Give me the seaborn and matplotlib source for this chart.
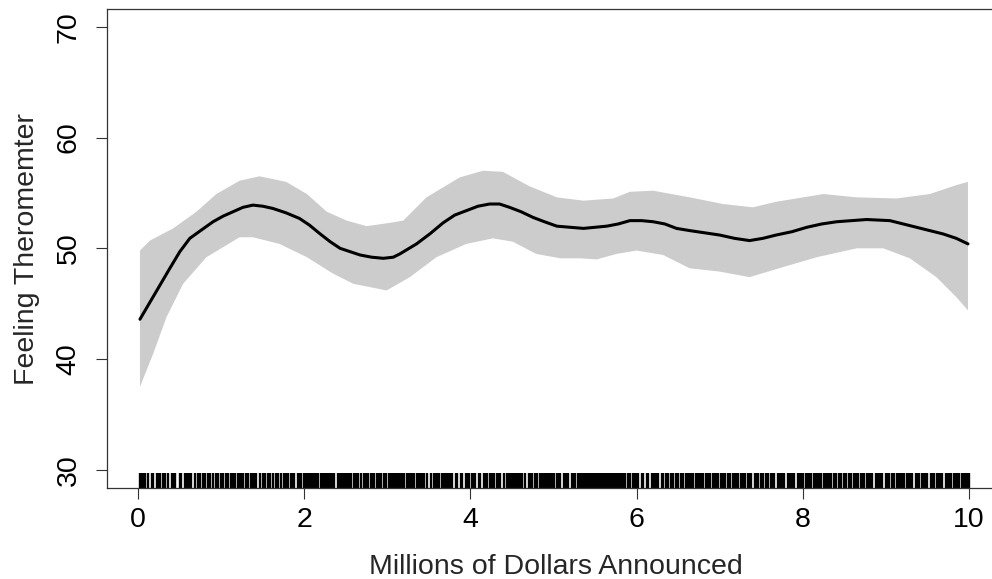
import matplotlib
matplotlib.use('Agg')
import matplotlib.pyplot as plt
import numpy as np
import pandas as pd
import seaborn as sns

# fitted curve (x in millions of dollars, y = feeling thermometer)
curve_x = [0.02, 0.20, 0.38, 0.50, 0.62, 0.75, 0.90, 1.02, 1.14, 1.26, 1.38, 1.50,
           1.62, 1.78, 1.94, 2.06, 2.19, 2.31, 2.43, 2.55, 2.67, 2.81, 2.95, 3.07,
           3.15, 3.35, 3.51, 3.67, 3.81, 3.95, 4.09, 4.23, 4.35, 4.47, 4.61, 4.75,
           4.89, 5.04, 5.20, 5.36, 5.64, 5.78, 5.92, 6.06, 6.20, 6.34, 6.48, 6.64,
           6.82, 7.00, 7.18, 7.36, 7.52, 7.68, 7.87, 8.05, 8.23, 8.41, 8.59, 8.77,
           9.05, 9.21, 9.37, 9.53, 9.69, 9.85, 9.99]
curve_y = [43.6, 45.9, 48.2, 49.7, 50.9, 51.6, 52.4, 52.9, 53.3, 53.7, 53.9, 53.8,
           53.6, 53.2, 52.7, 52.1, 51.3, 50.6, 50.0, 49.7, 49.4, 49.2, 49.1, 49.2,
           49.5, 50.4, 51.3, 52.3, 53.0, 53.4, 53.8, 54.0, 54.0, 53.7, 53.3, 52.8,
           52.4, 52.0, 51.9, 51.8, 52.0, 52.2, 52.5, 52.5, 52.4, 52.2, 51.8, 51.6,
           51.4, 51.2, 50.9, 50.7, 50.9, 51.2, 51.5, 51.9, 52.2, 52.4, 52.5, 52.6,
           52.5, 52.2, 51.9, 51.6, 51.3, 50.9, 50.4]

# upper edge of the confidence band
upper_x = [0.02, 0.14, 0.42, 0.70, 0.94, 1.22, 1.46, 1.78, 2.03, 2.27, 2.51, 2.75,
           3.03, 3.19, 3.47, 3.87, 4.15, 4.39, 4.71, 5.04, 5.36, 5.72, 5.92, 6.20,
           6.64, 7.04, 7.40, 7.68, 8.25, 8.65, 9.13, 9.53, 9.85, 9.99]
upper_y = [49.8, 50.7, 51.8, 53.3, 54.9, 56.1, 56.5, 56.0, 54.9, 53.3, 52.5, 52.0,
           52.3, 52.5, 54.6, 56.4, 57.0, 56.9, 55.6, 54.6, 54.3, 54.5, 55.1, 55.2,
           54.6, 54.0, 53.7, 54.2, 54.9, 54.6, 54.5, 54.9, 55.7, 56.0]

# lower edge of the confidence band
lower_x = [0.02, 0.18, 0.34, 0.54, 0.82, 1.22, 1.38, 1.70, 2.03, 2.35, 2.59, 2.99,
           3.27, 3.59, 3.95, 4.27, 4.51, 4.79, 5.08, 5.32, 5.52, 5.76, 6.00, 6.32,
           6.64, 7.00, 7.36, 7.76, 8.17, 8.65, 8.97, 9.29, 9.61, 9.85, 9.99]
lower_y = [37.5, 40.5, 43.8, 46.8, 49.2, 51.0, 51.0, 50.4, 49.2, 47.7, 46.8, 46.2,
           47.4, 49.2, 50.4, 50.9, 50.6, 49.5, 49.1, 49.1, 49.0, 49.5, 49.8, 49.4,
           48.2, 47.9, 47.4, 48.3, 49.2, 50.0, 50.0, 49.1, 47.4, 45.6, 44.4]

# observed amounts (rug)
rug_x = [
    0.02, 0.04, 0.06, 0.08, 0.12, 0.16, 0.18, 0.22, 0.24, 0.26, 0.30, 0.32, 0.36, 0.40, 0.42, 0.44,
    0.50, 0.52, 0.56, 0.58, 0.60, 0.62, 0.64, 0.68, 0.72, 0.74, 0.78, 0.80, 0.84, 0.86, 0.90, 0.94, 0.96,
    1.00, 1.02, 1.06, 1.08, 1.12, 1.14, 1.16, 1.20, 1.22, 1.24, 1.26, 1.30, 1.32, 1.36, 1.38, 1.40, 1.42,
    1.46, 1.50, 1.52, 1.56, 1.58, 1.62, 1.66, 1.68, 1.72, 1.76, 1.78, 1.80, 1.84, 1.86, 1.88, 1.92, 1.94, 1.96,
    2.00, 2.02, 2.04, 2.06, 2.08, 2.10, 2.12, 2.14, 2.16, 2.20, 2.22, 2.24, 2.26, 2.28, 2.30, 2.32, 2.34,
    2.36, 2.40, 2.42, 2.44, 2.46, 2.48, 2.50, 2.52, 2.54, 2.56, 2.60, 2.62, 2.64, 2.68, 2.72, 2.74, 2.76,
    2.80, 2.82, 2.84, 2.88, 2.90, 2.92, 2.96, 2.98,
    3.02, 3.04, 3.06, 3.08, 3.10, 3.12, 3.14, 3.16, 3.18, 3.20, 3.24, 3.26, 3.28, 3.30, 3.32, 3.36, 3.38,
    3.40, 3.42, 3.44, 3.48, 3.52, 3.56, 3.58, 3.60, 3.62, 3.66, 3.68, 3.70, 3.72, 3.74, 3.76, 3.78, 3.82,
    3.84, 3.88, 3.90, 3.94, 3.96, 3.98,
    4.02, 4.04, 4.06, 4.10, 4.12, 4.16, 4.18, 4.20, 4.24, 4.26, 4.28, 4.32, 4.34, 4.36, 4.40, 4.44, 4.46,
    4.48, 4.50, 4.52, 4.54, 4.56, 4.58, 4.60, 4.62, 4.66, 4.70, 4.72, 4.74, 4.78, 4.80, 4.84, 4.86, 4.88,
    4.90, 4.92, 4.94, 4.96, 4.98,
    5.00, 5.04, 5.06, 5.08, 5.12, 5.14, 5.16, 5.18, 5.22, 5.24, 5.26, 5.30, 5.32, 5.34, 5.36, 5.38, 5.40,
    5.42, 5.44, 5.46, 5.48, 5.50, 5.52, 5.54, 5.56, 5.58, 5.60, 5.62, 5.64, 5.66, 5.68, 5.70, 5.72, 5.74,
    5.76, 5.78, 5.80, 5.82, 5.84, 5.86, 5.90, 5.92, 5.96, 5.98,
    6.00, 6.02, 6.06, 6.08, 6.12, 6.14, 6.18, 6.20, 6.22, 6.24, 6.26, 6.30, 6.32, 6.36, 6.38, 6.42, 6.44,
    6.48, 6.50, 6.54, 6.56, 6.60, 6.62, 6.64, 6.66, 6.68, 6.72, 6.74, 6.76, 6.78, 6.80, 6.84, 6.86, 6.88,
    6.92, 6.94, 6.96, 6.98,
    7.02, 7.04, 7.06, 7.10, 7.12, 7.16, 7.18, 7.20, 7.22, 7.26, 7.28, 7.30, 7.34, 7.36, 7.38, 7.42, 7.44,
    7.46, 7.50, 7.52, 7.56, 7.58, 7.62, 7.64, 7.66, 7.70, 7.72, 7.74, 7.76, 7.78, 7.82, 7.84, 7.86, 7.88,
    7.90, 7.94, 7.96, 7.98,
    8.00, 8.04, 8.06, 8.08, 8.10, 8.14, 8.16, 8.18, 8.20, 8.22, 8.26, 8.28, 8.30, 8.32, 8.34, 8.38, 8.40,
    8.44, 8.46, 8.50, 8.52, 8.56, 8.58, 8.62, 8.64, 8.66, 8.70, 8.72, 8.74, 8.78, 8.80, 8.82, 8.84, 8.88,
    8.90, 8.92, 8.94, 8.96,
    9.00, 9.02, 9.04, 9.08, 9.10, 9.14, 9.16, 9.18, 9.20, 9.22, 9.26, 9.28, 9.30, 9.32, 9.36, 9.38, 9.40,
    9.44, 9.46, 9.48, 9.50, 9.54, 9.56, 9.58, 9.62, 9.64, 9.66, 9.68, 9.72, 9.74, 9.76, 9.78, 9.82, 9.84,
    9.86, 9.88, 9.92, 9.94, 9.96, 9.98, 10.00,
]

x_ticks = [0, 2, 4, 6, 8, 10]
y_ticks = [30, 40, 50, 60, 70]
x_label = 'Millions of Dollars Announced'
y_label = 'Feeling Theromemter'

sns.set_style('ticks')
plt.rcParams['font.family'] = ['Liberation Sans', 'DejaVu Sans']
font_size = 20.5

fig = plt.figure(figsize=(9.92, 5.79), dpi=100)
ax = fig.add_axes([0.1076, 0.1577, 0.9025, 0.8268])

band_x = np.concatenate([upper_x, lower_x[::-1]])
band_y = np.concatenate([upper_y, lower_y[::-1]])
ax.fill(band_x, band_y, color='#cccccc', linewidth=0, zorder=1)

curve = pd.DataFrame({'x': curve_x, 'y': curve_y})
sns.lineplot(data=curve, x='x', y='y', color='black', linewidth=2.2,
             estimator=None, ax=ax, zorder=3)
ax.lines[-1].set_solid_joinstyle('round')

sns.rugplot(x=rug_x, height=0.031, color='black', linewidth=1.7, ax=ax,
            expand_margins=False)

ax.set_xlim(-0.38, 10.4)
ax.set_ylim(28.4, 71.6)
ax.set_xticks(x_ticks)
ax.set_yticks(y_ticks)
ax.set_xticklabels([str(v) for v in x_ticks])
ax.set_yticklabels([str(v) for v in y_ticks])
ax.set_xlabel('')
ax.set_ylabel('')

for side in ['left', 'bottom', 'top']:
    ax.spines[side].set_visible(True)
    ax.spines[side].set_color('#333333')
    ax.spines[side].set_linewidth(0.9)
ax.spines['right'].set_visible(False)

ax.tick_params(axis='both', direction='out', length=8, width=0.8, color='#333333',
               labelsize=font_size, labelcolor='black')
ax.tick_params(axis='x', pad=6)
ax.tick_params(axis='y', pad=10)
for lab in ax.get_yticklabels():
    lab.set_rotation(90)
    lab.set_va('center')

fig.text(556 / 992, 5 / 579, x_label, fontsize=font_size, ha='center', va='baseline')
fig.text(27 / 992, 1 - 249 / 579, y_label, fontsize=font_size, ha='center', va='center',
         rotation=90)

fig.savefig('out.png', dpi=100)
